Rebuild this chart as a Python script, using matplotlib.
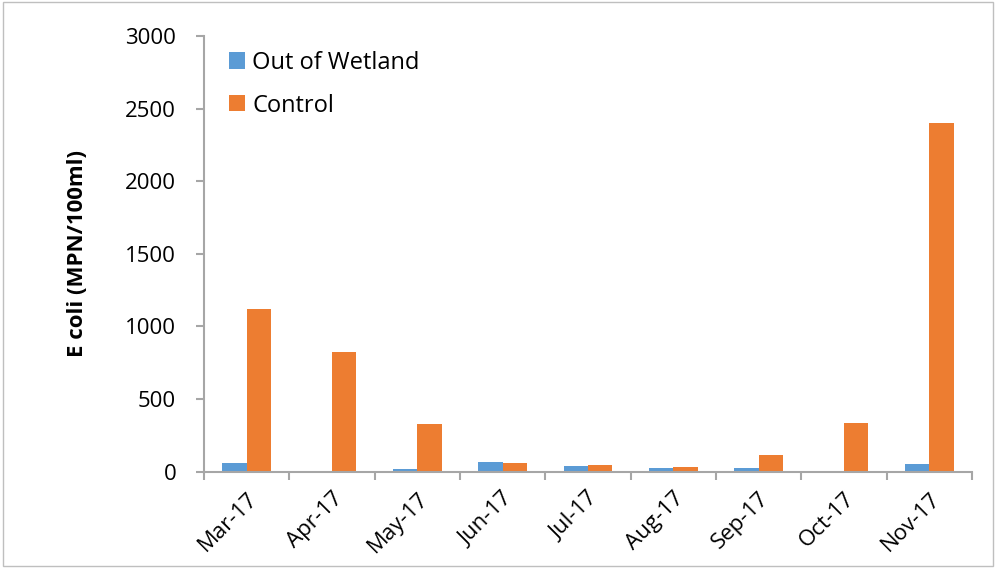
import numpy as np
import matplotlib
matplotlib.use('Agg')
import matplotlib.pyplot as plt

months = ['Mar-17', 'Apr-17', 'May-17', 'Jun-17', 'Jul-17',
          'Aug-17', 'Sep-17', 'Oct-17', 'Nov-17']
out_of_wetland = [57, 4, 15, 65, 38, 22, 22, 3, 50]
control = [1120, 820, 327, 61, 45, 31, 112, 334, 2400]
y_ticks = [0, 500, 1000, 1500, 2000, 2500, 3000]

BLUE = '#5b9bd5'
ORANGE = '#ed7d31'
AXIS = '#a6a6a6'

plt.rcParams['font.family'] = ['Open Sans', 'DejaVu Sans']

fig = plt.figure(figsize=(9.96, 5.68), dpi=100)
ax = fig.add_axes([204 / 996, 1 - 471.5 / 568, 768 / 996, 435.5 / 568])

x = np.arange(len(months))
w = 0.287
ax.bar(x - w / 2, out_of_wetland, width=w, color=BLUE, label='Out of Wetland')
ax.bar(x + w / 2, control, width=w, color=ORANGE, label='Control')

ax.set_xlim(-0.5, len(months) - 0.5)
ax.set_ylim(0, 3000)
ax.set_yticks(y_ticks)
ax.set_yticklabels([str(v) for v in y_ticks], fontsize=16)

# Excel style: ticks on category boundaries, labels centred
ax.set_xticks(np.arange(-0.5, len(months)))
ax.set_xticklabels([])
ax.set_xticks(x, minor=True)
ax.set_xticklabels(months, minor=True, rotation=45, ha='right',
                   rotation_mode='anchor', fontsize=16)
ax.tick_params(axis='x', which='minor', length=0, pad=12)
ax.tick_params(axis='x', which='major', length=6, color=AXIS, width=1.5)
ax.tick_params(axis='y', length=6, color=AXIS, width=1.5, pad=14)

for s in ['top', 'right']:
    ax.spines[s].set_visible(False)
for s in ['left', 'bottom']:
    ax.spines[s].set_color(AXIS)
    ax.spines[s].set_linewidth(1.5)

ax.set_ylabel('E coli (MPN/100ml)', fontsize=16, fontweight='bold')
ax.yaxis.set_label_coords(-0.151, 0.5)

ax.legend(loc='upper left', bbox_to_anchor=(0.005, 1.015), frameon=False,
          fontsize=17, handlelength=0.68, handleheight=0.68, handletextpad=0.3,
          labelspacing=0.8)

# light border around the whole figure
fig.patches.append(plt.Rectangle((0.003, 0.003), 0.994, 0.994, transform=fig.transFigure,
                                 fill=False, edgecolor='#bfbfbf', linewidth=1))

fig.savefig('out.png', dpi=100)
